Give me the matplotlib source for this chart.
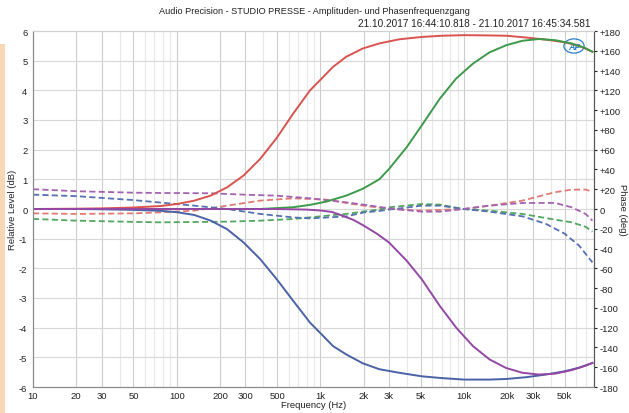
import matplotlib
matplotlib.use("Agg")
import matplotlib.pyplot as plt
from matplotlib.patches import Rectangle, Ellipse
from matplotlib.ticker import FixedLocator, NullLocator

# ---------------- data ----------------
title = "Audio Precision - STUDIO PRESSE - Amplituden- und Phasenfrequenzgang"
subtitle = "21.10.2017 16:44:10.818 - 21.10.2017 16:45:34.581"

x_tick_vals = [10, 20, 30, 50, 100, 200, 300, 500, 1000, 2000, 3000, 5000,
               10000, 20000, 30000, 50000]
x_tick_labels = ["10", "20", "30", "50", "100", "200", "300", "500", "1k", "2k",
                 "3k", "5k", "10k", "20k", "30k", "50k"]

# Level (dB), solid lines
red_f = [10, 20, 30, 50, 77, 101, 132, 172, 224, 292, 381, 497, 647, 846, 1045,
         1222, 1509, 1967, 2565, 3530, 5070, 7000, 10000, 15000, 19600, 27000,
         37000, 50000, 63000, 78000]
red_db = [0.0, 0.01, 0.02, 0.05, 0.1, 0.17, 0.28, 0.45, 0.73, 1.13, 1.69, 2.4,
          3.22, 4.0, 4.45, 4.79, 5.13, 5.41, 5.58, 5.72, 5.8, 5.84, 5.86, 5.85,
          5.84, 5.78, 5.71, 5.62, 5.5, 5.3]

green_f = [10, 100, 381, 647, 846, 1100, 1509, 1967, 2565, 3000, 3990, 5070, 6770,
           8800, 11500, 15000, 19600, 25400, 33000, 43000, 56000, 70000, 78000]
green_db = [0.0, 0.0, 0.0, 0.06, 0.14, 0.25, 0.45, 0.68, 1.0, 1.35, 2.09, 2.82,
            3.72, 4.4, 4.9, 5.28, 5.52, 5.67, 5.73, 5.69, 5.58, 5.42, 5.3]

blue_f = [10, 20, 30, 50, 77, 101, 132, 172, 224, 292, 381, 497, 647, 846, 1045,
          1222, 1509, 1967, 2565, 3530, 5070, 7000, 10000, 15000, 19600, 27000,
          37000, 50000, 63000, 78000]
blue_db = [0.0, 0.0, -0.01, -0.03, -0.06, -0.11, -0.2, -0.39, -0.68, -1.13, -1.69,
           -2.37, -3.1, -3.83, -4.28, -4.62, -4.9, -5.2, -5.4, -5.52, -5.64, -5.7,
           -5.75, -5.75, -5.73, -5.67, -5.58, -5.47, -5.35, -5.19]

purple_f = [10, 100, 500, 800, 1000, 1200, 1380, 1700, 2000, 2500, 3000, 3990,
            5070, 6770, 8800, 11500, 15000, 19600, 25400, 33000, 43000, 56000,
            70000, 78000]
purple_db = [0.0, 0.0, 0.0, -0.02, -0.05, -0.1, -0.2, -0.37, -0.56, -0.85, -1.13,
             -1.75, -2.37, -3.27, -4.0, -4.62, -5.07, -5.36, -5.52, -5.58, -5.55,
             -5.43, -5.28, -5.19]

# Phase (deg), dashed lines
purple_ph_f = [10, 20, 50, 77, 172, 292, 497, 846, 1500, 2000, 3000, 5070, 6770,
               9900, 15000, 25400, 43000, 56000, 70000, 78000]
purple_ph = [20, 18, 16.5, 16.2, 15.9, 14.5, 13.5, 10.8, 6.8, 4.4, 0.7, -2.7,
             -2.7, 0, 3.4, 6.1, 6.1, 1.7, -5, -11.8]

blue_ph_f = [10, 20, 50, 77, 132, 224, 381, 647, 846, 1509, 2000, 2565, 3000,
             3530, 5070, 6770, 9900, 15000, 25400, 37000, 50000, 63000, 78000]
blue_ph = [14.5, 13, 9, 6.5, 3.4, 0, -5, -8.5, -9.5, -7.5, -3.5, -2, -0.5, 0.5,
           3.4, 3.4, 0, -2.7, -7.4, -15, -25, -37, -54]

red_ph_f = [10, 20, 50, 77, 132, 224, 381, 647, 1100, 1509, 2000, 3000, 5070, 9900,
            15000, 25400, 43000, 56000, 70000, 78000]
red_ph = [-4.4, -5, -4.4, -3.4, -1.7, 3.4, 8.5, 10.8, 9.5, 6.1, 3.4, 0, -1.7, 0,
          3.4, 8.5, 17, 19.6, 19.6, 17.6]

green_ph_f = [10, 20, 50, 77, 224, 381, 647, 1100, 1509, 2000, 2565, 3000, 5070,
              6770, 9900, 15000, 25400, 43000, 56000, 70000, 78000]
green_ph = [-10, -11.8, -13, -13.5, -12.8, -11.8, -10.1, -6.8, -5, -2.5, -0.5, 1.7,
            5, 4.4, 0, -1.7, -5, -10.8, -13.5, -18, -23]

# ---------------- styling ----------------
C_RED = "#d9534f"
C_GREEN = "#3c9a4a"
C_BLUE = "#4a62a6"
C_PURPLE = "#9447a4"
C_RED_D = "#e07a72"
C_GREEN_D = "#52a75e"
C_BLUE_D = "#5571b3"
C_PURPLE_D = "#a463b2"

plt.rcParams["font.family"] = ["Liberation Sans", "DejaVu Sans"]
TXT = "#222222"
FS = 6.8

W, H = 629, 414
fig = plt.figure(figsize=(W / 100, H / 100), dpi=100)
fig.patch.set_facecolor("white")

# peach strip at left edge
fig.patches.append(Rectangle((0, 0), 5 / W, 1 - 45 / H, transform=fig.transFigure,
                             facecolor="#f9d6b6", edgecolor="none", zorder=0))

L, R, T, B = 33, 594, 32, 388
ax = fig.add_axes([L / W, 1 - B / H, (R - L) / W, (B - T) / H])
ax2 = ax.twinx()

ax.set_xscale("log")
ax.set_xlim(10, 80000)
ax.set_ylim(-6, 6)

# grid
minor_grid = []
for dec in [10, 100, 1000, 10000]:
    for m in range(2, 10):
        v = dec * m
        if v < 80000 and v not in x_tick_vals:
            minor_grid.append(v)
for v in minor_grid:
    ax.axvline(v, color="#e8e8e8", lw=0.8, zorder=0)
for v in x_tick_vals[1:]:
    ax.axvline(v, color="#cdcdcd", lw=0.8, zorder=0)
for v in range(-5, 6):
    ax.axhline(v, color="#d8d8d8", lw=0.8, zorder=0)

dash = (0, (3.4, 1.8))
lw = 1.3
ax2.plot(red_ph_f, red_ph, color=C_RED_D, lw=lw, ls=dash)
ax2.plot(green_ph_f, green_ph, color=C_GREEN_D, lw=lw, ls=dash)
ax2.plot(blue_ph_f, blue_ph, color=C_BLUE_D, lw=lw, ls=dash)
ax2.plot(purple_ph_f, purple_ph, color=C_PURPLE_D, lw=lw, ls=dash)

ax2.plot(red_f, red_db, color=C_RED, lw=1.4, transform=ax.transData)
ax2.plot(green_f, green_db, color=C_GREEN, lw=1.4, transform=ax.transData)
ax2.plot(blue_f, blue_db, color=C_BLUE, lw=1.4, transform=ax.transData)
ax2.plot(purple_f, purple_db, color=C_PURPLE, lw=1.4, transform=ax.transData)
ax2.set_ylim(-180, 180)

# ticks
ax.xaxis.set_major_locator(FixedLocator(x_tick_vals))
ax.set_xticklabels(x_tick_labels)
ax.xaxis.set_minor_locator(NullLocator())
ax.set_yticks(range(-6, 7))
ax.set_yticklabels([str(v) for v in range(-6, 7)])
ax.tick_params(axis="both", which="both", length=0, labelsize=FS, colors=TXT)
ax.tick_params(axis="x", pad=3)
ax.tick_params(axis="y", pad=4)

ph_ticks = list(range(-180, 181, 20))
ax2.set_yticks(ph_ticks)
ax2.set_yticklabels([("+%d" % v) if v > 0 else str(v) for v in ph_ticks])
ax2.tick_params(axis="y", length=2.5, width=0.8, labelsize=FS, pad=1.5,
                colors=TXT)

for a in (ax, ax2):
    a.spines["top"].set_color("#d0d0d0")
    a.spines["left"].set_color("#8a8a8a")
    a.spines["bottom"].set_color("#8a8a8a")
    a.spines["right"].set_color("#555555")

ax.set_xlabel("Frequency (Hz)", fontsize=FS, color=TXT, va="center")
ax.xaxis.set_label_coords(0.5, (B - 406) / (B - T))
ax.set_ylabel("Relative Level (dB)", fontsize=FS, color=TXT, va="center")
ax.yaxis.set_label_coords((13 - L) / (R - L), 0.5)
ax2.set_ylabel("Phase (deg)", fontsize=FS, rotation=270, color=TXT, va="center")
ax2.yaxis.set_label_coords((622 - L) / (R - L), 0.5)

fig.text(0.5, 1 - 12 / H, title, ha="center", va="center", fontsize=6.6,
         color=TXT)
fig.text(590 / W, 1 - 24 / H, subtitle, ha="right", va="center", fontsize=7.2,
         color=TXT)

# AP logo
lx, ly = (574 - L) / (R - L), (B - 47) / (B - T)
ax.add_patch(Ellipse((lx, ly), 0.036, 0.04, transform=ax.transAxes, fill=False,
                     edgecolor="#2a7fc9", lw=0.9, zorder=5))
ax.text(lx, ly, "AP", transform=ax.transAxes, ha="center", va="center",
        fontsize=6.5, fontweight="bold", style="italic", color="#2a7fc9",
        zorder=6)

fig.savefig("out.png", dpi=100, facecolor="white")
